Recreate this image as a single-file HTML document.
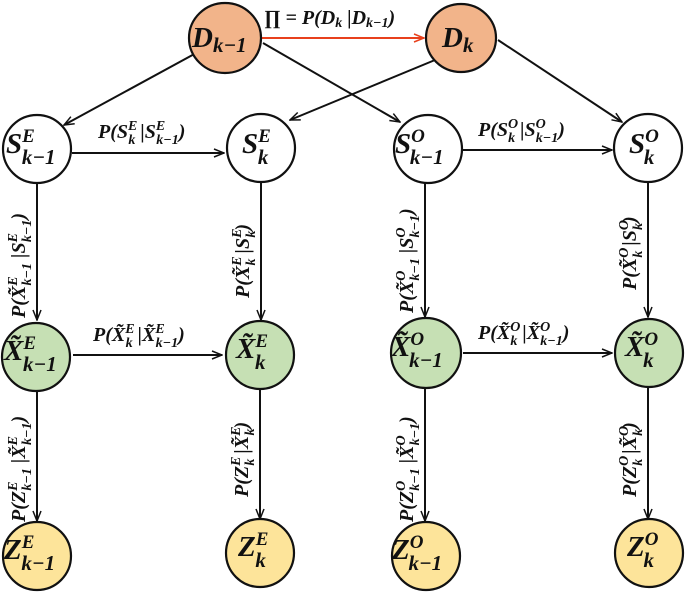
<!DOCTYPE html>
<html><head><meta charset="utf-8"><style>
html,body{margin:0;padding:0;background:#fff;width:685px;height:594px;overflow:hidden}
svg text{font-family:"Liberation Serif",serif;font-weight:bold;font-style:italic;fill:#111}
</style></head><body>
<svg width="685" height="594" viewBox="0 0 685 594" xmlns="http://www.w3.org/2000/svg">
<defs>
<marker id="a" markerWidth="12" markerHeight="10" refX="11" refY="5" orient="auto" markerUnits="userSpaceOnUse"><path d="M1,1 L11,5 L1,9" fill="none" stroke="#111" stroke-width="1.5"/></marker>
<marker id="r" markerWidth="12" markerHeight="10" refX="11" refY="5" orient="auto" markerUnits="userSpaceOnUse"><path d="M1,1 L11,5 L1,9" fill="none" stroke="#e8401c" stroke-width="1.5"/></marker>
</defs>
<g stroke="#111" stroke-width="2" fill="none">
<line x1="261" y1="38" x2="424" y2="38" stroke="#e8401c" marker-end="url(#r)"/>
<line x1="198" y1="52" x2="64" y2="125" marker-end="url(#a)"/>
<line x1="263" y1="43" x2="400" y2="122" marker-end="url(#a)"/>
<line x1="435" y1="60" x2="290" y2="120" marker-end="url(#a)"/>
<line x1="498" y1="40" x2="622" y2="122" marker-end="url(#a)"/>
<line x1="72" y1="153" x2="224" y2="153" marker-end="url(#a)"/>
<line x1="461" y1="150" x2="612" y2="150" marker-end="url(#a)"/>
<line x1="73" y1="355" x2="222" y2="355" marker-end="url(#a)"/>
<line x1="463" y1="353" x2="612" y2="353" marker-end="url(#a)"/>
<line x1="37" y1="182" x2="37" y2="320" marker-end="url(#a)"/>
<line x1="261" y1="181" x2="261" y2="320" marker-end="url(#a)"/>
<line x1="425" y1="182" x2="425" y2="317" marker-end="url(#a)"/>
<line x1="648" y1="181" x2="648" y2="317" marker-end="url(#a)"/>
<line x1="37" y1="390" x2="37" y2="521" marker-end="url(#a)"/>
<line x1="260" y1="388" x2="260" y2="519" marker-end="url(#a)"/>
<line x1="425" y1="388" x2="425" y2="521" marker-end="url(#a)"/>
<line x1="648" y1="388" x2="648" y2="519" marker-end="url(#a)"/>
</g>
<g stroke="#111" stroke-width="2.2">
<ellipse cx="225" cy="38" rx="36" ry="35" fill="#f2b48a"/>
<ellipse cx="461" cy="38" rx="35" ry="34" fill="#f2b48a"/>
<circle cx="37" cy="149" r="34" fill="#fff"/>
<circle cx="261" cy="148" r="34" fill="#fff"/>
<circle cx="428" cy="149" r="34" fill="#fff"/>
<circle cx="648" cy="148" r="34" fill="#fff"/>
<circle cx="36" cy="357" r="34" fill="#c6e0b4"/>
<circle cx="260" cy="355" r="34" fill="#c6e0b4"/>
<circle cx="426" cy="353" r="35" fill="#c6e0b4"/>
<circle cx="649" cy="353" r="34" fill="#c6e0b4"/>
<circle cx="37" cy="556" r="34" fill="#fde49a"/>
<circle cx="260" cy="553" r="34" fill="#fde49a"/>
<circle cx="426" cy="556" r="34" fill="#fde49a"/>
<circle cx="649" cy="553" r="34" fill="#fde49a"/>
</g>
<g font-size="29">
<text x="192" y="47">D<tspan font-size="21" dy="5">k−1</tspan></text>
<text x="442" y="47">D<tspan font-size="21" dy="5">k</tspan></text>
<text x="6" y="153">S<tspan font-size="19" dy="-11">E</tspan><tspan font-size="21" dx="-13" dy="22">k−1</tspan></text>
<text x="242" y="153">S<tspan font-size="19" dy="-11">E</tspan><tspan font-size="21" dx="-13" dy="22">k</tspan></text>
<text x="395" y="153">S<tspan font-size="19" dy="-11">O</tspan><tspan font-size="21" dx="-15" dy="22">k−1</tspan></text>
<text x="629" y="153">S<tspan font-size="19" dy="-11">O</tspan><tspan font-size="21" dx="-15" dy="22">k</tspan></text>
<text x="4" y="360">X̃<tspan font-size="19" dy="-11">E</tspan><tspan font-size="21" dx="-13" dy="22">k−1</tspan></text>
<text x="236" y="358">X̃<tspan font-size="19" dy="-11">E</tspan><tspan font-size="21" dx="-13" dy="22">k</tspan></text>
<text x="391" y="356">X̃<tspan font-size="19" dy="-11">O</tspan><tspan font-size="21" dx="-15" dy="22">k−1</tspan></text>
<text x="625" y="356">X̃<tspan font-size="19" dy="-11">O</tspan><tspan font-size="21" dx="-15" dy="22">k</tspan></text>
<text x="4" y="559">Z<tspan font-size="19" dy="-11">E</tspan><tspan font-size="21" dx="-13" dy="22">k−1</tspan></text>
<text x="238" y="556">Z<tspan font-size="19" dy="-11">E</tspan><tspan font-size="21" dx="-13" dy="22">k</tspan></text>
<text x="392" y="559">Z<tspan font-size="19" dy="-11">O</tspan><tspan font-size="21" dx="-15" dy="22">k−1</tspan></text>
<text x="627" y="556">Z<tspan font-size="19" dy="-11">O</tspan><tspan font-size="21" dx="-15" dy="22">k</tspan></text>
</g>
<g font-size="20">
<text x="264" y="24">∏ = P(D<tspan font-size="14" dy="3">k</tspan><tspan dy="-3"> |D</tspan><tspan font-size="14" dy="3">k−1</tspan><tspan dy="-3">)</tspan></text>
<text x="98" y="138">P(S<tspan font-size="14" dy="-8">E</tspan><tspan font-size="14" dx="-9" dy="14">k</tspan><tspan dy="-6"> |S</tspan><tspan font-size="14" dy="-8">E</tspan><tspan font-size="14" dx="-9" dy="14">k−1</tspan><tspan dy="-6">)</tspan></text>
<text x="478" y="136">P(S<tspan font-size="14" dy="-8">O</tspan><tspan font-size="14" dx="-10" dy="14">k</tspan><tspan dy="-6"> |S</tspan><tspan font-size="14" dy="-8">O</tspan><tspan font-size="14" dx="-10" dy="14">k−1</tspan><tspan dy="-6">)</tspan></text>
<text x="93" y="341">P(X̃<tspan font-size="14" dy="-8">E</tspan><tspan font-size="14" dx="-9" dy="14">k</tspan><tspan dy="-6"> |X̃</tspan><tspan font-size="14" dy="-8">E</tspan><tspan font-size="14" dx="-9" dy="14">k−1</tspan><tspan dy="-6">)</tspan></text>
<text x="478" y="339">P(X̃<tspan font-size="14" dy="-8">O</tspan><tspan font-size="14" dx="-10" dy="14">k</tspan><tspan dy="-6"> |X̃</tspan><tspan font-size="14" dy="-8">O</tspan><tspan font-size="14" dx="-10" dy="14">k−1</tspan><tspan dy="-6">)</tspan></text>
<text transform="translate(25,318) rotate(-90)">P(X̃<tspan font-size="14" dy="-8">E</tspan><tspan font-size="14" dx="-9" dy="14">k−1</tspan><tspan dy="-6"> |S</tspan><tspan font-size="14" dy="-8">E</tspan><tspan font-size="14" dx="-9" dy="14">k−1</tspan><tspan dy="-6">)</tspan></text>
<text transform="translate(249,298) rotate(-90)">P(X̃<tspan font-size="14" dy="-8">E</tspan><tspan font-size="14" dx="-9" dy="14">k</tspan><tspan dy="-6"> |S</tspan><tspan font-size="14" dy="-8">E</tspan><tspan font-size="14" dx="-9" dy="14">k</tspan><tspan dy="-6">)</tspan></text>
<text transform="translate(413,313) rotate(-90)">P(X̃<tspan font-size="14" dy="-8">O</tspan><tspan font-size="14" dx="-10" dy="14">k−1</tspan><tspan dy="-6"> |S</tspan><tspan font-size="14" dy="-8">O</tspan><tspan font-size="14" dx="-10" dy="14">k−1</tspan><tspan dy="-6">)</tspan></text>
<text transform="translate(636,290) rotate(-90)">P(X̃<tspan font-size="14" dy="-8">O</tspan><tspan font-size="14" dx="-10" dy="14">k</tspan><tspan dy="-6"> |S</tspan><tspan font-size="14" dy="-8">O</tspan><tspan font-size="14" dx="-10" dy="14">k</tspan><tspan dy="-6">)</tspan></text>
<text transform="translate(25,522) rotate(-90)">P(Z<tspan font-size="14" dy="-8">E</tspan><tspan font-size="14" dx="-9" dy="14">k−1</tspan><tspan dy="-6"> |X̃</tspan><tspan font-size="14" dy="-8">E</tspan><tspan font-size="14" dx="-9" dy="14">k−1</tspan><tspan dy="-6">)</tspan></text>
<text transform="translate(248,497) rotate(-90)">P(Z<tspan font-size="14" dy="-8">E</tspan><tspan font-size="14" dx="-9" dy="14">k</tspan><tspan dy="-6"> |X̃</tspan><tspan font-size="14" dy="-8">E</tspan><tspan font-size="14" dx="-9" dy="14">k</tspan><tspan dy="-6">)</tspan></text>
<text transform="translate(413,522) rotate(-90)">P(Z<tspan font-size="14" dy="-8">O</tspan><tspan font-size="14" dx="-10" dy="14">k−1</tspan><tspan dy="-6"> |X̃</tspan><tspan font-size="14" dy="-8">O</tspan><tspan font-size="14" dx="-10" dy="14">k−1</tspan><tspan dy="-6">)</tspan></text>
<text transform="translate(636,497) rotate(-90)">P(Z<tspan font-size="14" dy="-8">O</tspan><tspan font-size="14" dx="-10" dy="14">k</tspan><tspan dy="-6"> |X̃</tspan><tspan font-size="14" dy="-8">O</tspan><tspan font-size="14" dx="-10" dy="14">k</tspan><tspan dy="-6">)</tspan></text>
</g>
</svg>
</body></html>
